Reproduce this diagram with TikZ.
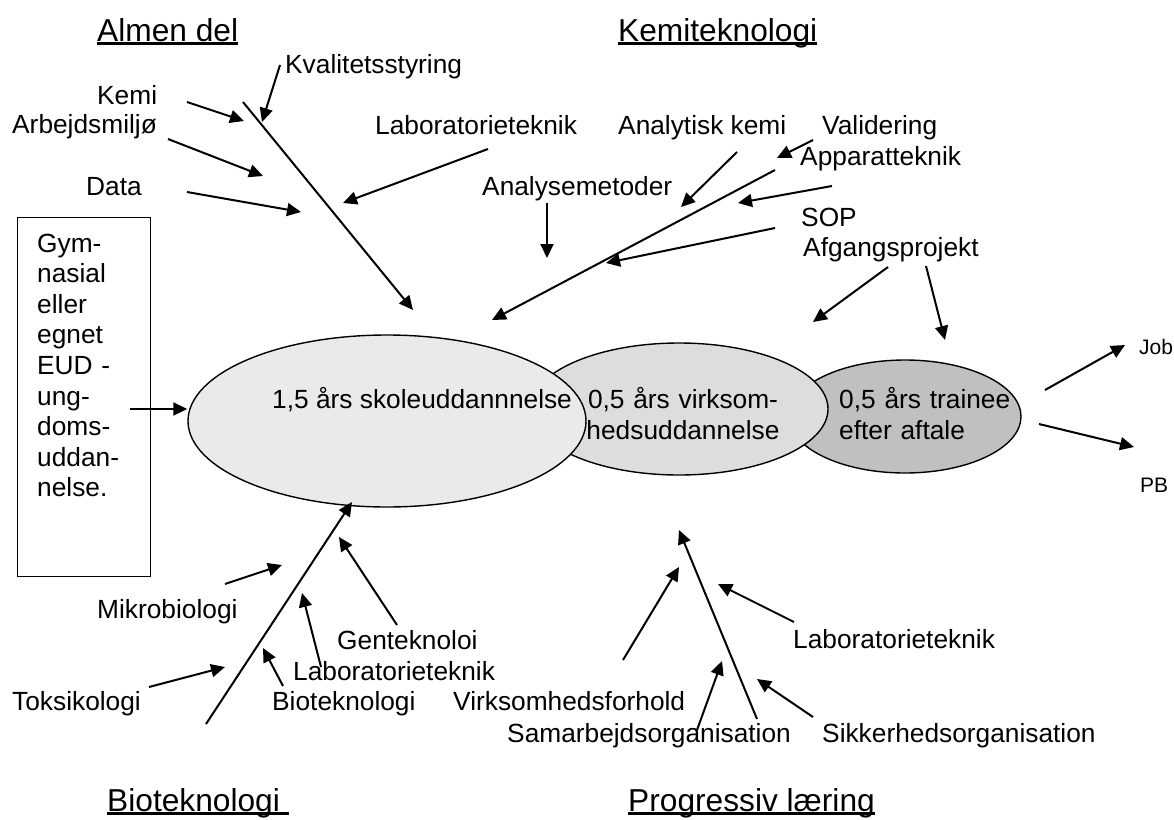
\documentclass[tikz,border=0pt]{standalone}
\usepackage{fontspec}
\setmainfont{Liberation Sans}
\usetikzlibrary{arrows.meta,shapes.geometric}
\definecolor{skolecolor}{RGB}{234,234,234}
\definecolor{virkcolor}{RGB}{221,221,221}
\definecolor{traineecolor}{RGB}{192,192,192}
\newcommand{\headline}[1]{\setbox0\hbox{#1}\rlap{\rule[-3.5pt]{\wd0}{2.5pt}}\box0}

\begin{document}
\begin{tikzpicture}[
    x=1pt, y=-1pt,
    txt/.style={inner sep=0pt, anchor=base west, font=\fontsize{26.3}{31}\selectfont},
    head/.style={txt, font=\fontsize{31.7}{38}\selectfont},
    small/.style={txt, font=\fontsize{21}{25}\selectfont},
    ell/.style={ellipse, draw, line width=1.4pt, inner sep=0pt},
    arrow/.style={-{Triangle[length=14pt,width=13pt]}, line width=2pt}
]
\useasboundingbox (0,0) rectangle (1174,819);

% Headings
\node[head] (almen) at (97,41) {\headline{Almen del}};
\node[head] (kemitek) at (618,41) {\headline{Kemiteknologi}};
\node[head] (biotek) at (107,811) {\headline{Bioteknologi\ }};
\node[head] (progres) at (628,811) {\headline{Progressiv læring}};

% Ellipses (back to front)
\node[ell, fill=traineecolor, minimum width=232, minimum height=113] (trainee) at (905,416.5) {};
\node[ell, fill=virkcolor, minimum width=298, minimum height=132] (virk) at (679,409) {};
\node[ell, fill=skolecolor, minimum width=398, minimum height=172] (skole) at (387,421) {};

\node[txt] (skoletxt) at (272,408) {1,5 års skoleuddannnelse};
\node[txt, anchor=base, text width=200, align=center] (virktxt) at (683,408) {0,5 års virksom-\\hedsuddannelse};
\node[txt, text width=180, align=left] (traineetxt) at (839,408) {0,5 års trainee\\efter aftale};

% Input box
\node[draw, line width=1.4pt, minimum width=133, minimum height=359, anchor=north west, inner sep=0pt] (gymbox) at (17,217) {};
\node[txt, text width=110, align=left, font=\fontsize{26.3}{30.6}\selectfont] (gym) at (37,252) {Gym-\\nasial\\eller\\egnet\\EUD -\\ung-\\doms-\\uddan-\\nelse.};

% Almen del
\node[txt] (kvalitet) at (285,73) {Kvalitetsstyring};
\node[txt] (kemi) at (97,104) {Kemi};
\node[txt] (arbejd) at (12,133) {Arbejdsmiljø};
\node[txt] (data) at (86,195) {Data};
\node[txt] (labtop) at (375,134) {Laboratorieteknik};

% Kemiteknologi
\node[txt] (analytisk) at (618,134) {Analytisk kemi};
\node[txt] (valid) at (822,134) {Validering};
\node[txt] (apparat) at (800,165) {Apparatteknik};
\node[txt] (analyse) at (482,195) {Analysemetoder};
\node[txt] (sop) at (801,226) {SOP};
\node[txt] (afgang) at (803,256) {Afgangsprojekt};

% Outcome
\node[small] (job) at (1139,354) {Job};
\node[small] (pb) at (1140,492) {PB};

% Bioteknologi
\node[txt] (mikro) at (97,618) {Mikrobiologi};
\node[txt] (gentek) at (337,649) {Genteknoloi};
\node[txt] (labbio) at (293,680) {Laboratorieteknik};
\node[txt] (toksik) at (12,710) {Toksikologi};
\node[txt] (bioteklab) at (272,710) {Bioteknologi};

% Progressiv laering
\node[txt] (labprog) at (793,648) {Laboratorieteknik};
\node[txt] (virkfor) at (453,710) {Virksomhedsforhold};
\node[txt] (samarb) at (507,742) {Samarbejdsorganisation};
\node[txt] (sikker) at (822,742) {Sikkerhedsorganisation};

% Arrow ends
\coordinate (almA) at (243,102);   \coordinate (almB) at (413,310);
\coordinate (kvaA) at (280,65);    \coordinate (kvaB) at (262,122);
\coordinate (kemA) at (187,102);   \coordinate (kemB) at (244,121);
\coordinate (arbA) at (168,139);   \coordinate (arbB) at (263,176);
\coordinate (datA) at (187,192);   \coordinate (datB) at (301,212);
\coordinate (labA) at (488,149);   \coordinate (labB) at (343,203);
\coordinate (ktA) at (775,170);    \coordinate (ktB) at (492,320);
\coordinate (valA) at (813,140);   \coordinate (valB) at (777,158);
\coordinate (anaA) at (737,152);   \coordinate (anaB) at (681,207);
\coordinate (appA) at (832,186);   \coordinate (appB) at (738,203);
\coordinate (metA) at (547,203);   \coordinate (metB) at (547,258);
\coordinate (sopA) at (775,228);   \coordinate (sopB) at (606,263);
\coordinate (afgA) at (888,267);   \coordinate (afgB) at (813,322);
\coordinate (afgC) at (926,266);   \coordinate (afgD) at (945,340);
\coordinate (jobA) at (1045,390);  \coordinate (jobB) at (1125,345);
\coordinate (pbA) at (1039,424);   \coordinate (pbB) at (1134,447);
\coordinate (inA) at (130,409);
\coordinate (btA) at (206,724);    \coordinate (btB) at (352,502);
\coordinate (mikA) at (225,584);   \coordinate (mikB) at (282,565);
\coordinate (tokA) at (149,687);   \coordinate (tokB) at (225,667);
\coordinate (bioA) at (283,686);   \coordinate (bioB) at (263,648);
\coordinate (lbA) at (321,667);    \coordinate (lbB) at (302,593);
\coordinate (genA) at (397,625);   \coordinate (genB) at (339,537);
\coordinate (prA) at (757,719);    \coordinate (prB) at (679,530);
\coordinate (vfA) at (623,660);    \coordinate (vfB) at (679,567);
\coordinate (saA) at (697,730);    \coordinate (saB) at (722,661);
\coordinate (lpA) at (794,622);    \coordinate (lpB) at (718,584);
\coordinate (siA) at (813,717);    \coordinate (siB) at (757,679);

% Arrows
\draw[arrow] (inA) -- (skole.west |- inA);
\draw[arrow] (almA) -- (almB);
\draw[arrow] (kvaA) -- (kvaB);
\draw[arrow] (kemA) -- (kemB);
\draw[arrow] (arbA) -- (arbB);
\draw[arrow] (datA) -- (datB);
\draw[arrow] (labA) -- (labB);
\draw[arrow] (ktA) -- (ktB);
\draw[arrow] (valA) -- (valB);
\draw[arrow] (anaA) -- (anaB);
\draw[arrow] (appA) -- (appB);
\draw[arrow] (metA) -- (metB);
\draw[arrow] (sopA) -- (sopB);
\draw[arrow] (afgA) -- (afgB);
\draw[arrow] (afgC) -- (afgD);
\draw[arrow] (jobA) -- (jobB);
\draw[arrow] (pbA) -- (pbB);
\draw[arrow] (btA) -- (btB);
\draw[arrow] (mikA) -- (mikB);
\draw[arrow] (tokA) -- (tokB);
\draw[arrow] (bioA) -- (bioB);
\draw[arrow] (lbA) -- (lbB);
\draw[arrow] (genA) -- (genB);
\draw[arrow] (prA) -- (prB);
\draw[arrow] (vfA) -- (vfB);
\draw[arrow] (saA) -- (saB);
\draw[arrow] (lpA) -- (lpB);
\draw[arrow] (siA) -- (siB);

\end{tikzpicture}
\end{document}
